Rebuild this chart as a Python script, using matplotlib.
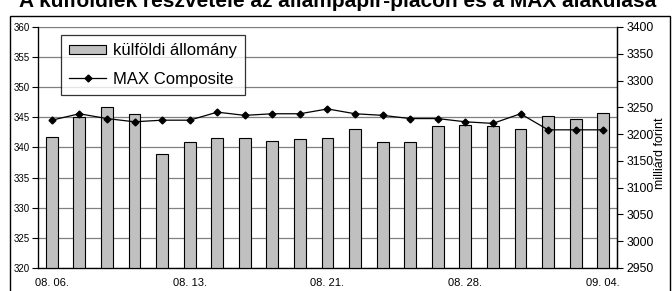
import matplotlib
matplotlib.use("Agg")
import matplotlib.pyplot as plt
from matplotlib.patches import Rectangle
import numpy as np

plt.rcParams['font.family'] = ['Liberation Sans', 'DejaVu Sans']

dates = ["08. 06.", "08. 07.", "08. 08.", "08. 09.", "08. 10.",
         "08. 13.", "08. 14.", "08. 15.", "08. 16.", "08. 17.",
         "08. 21.", "08. 22.", "08. 23.", "08. 24.", "08. 27.",
         "08. 28.", "08. 29.", "08. 30.", "08. 31.", "09. 03.", "09. 04."]
kulfoldi = [341.7, 345.1, 346.7, 345.6, 339.0, 340.9, 341.6, 341.6, 341.1, 341.4,
            341.6, 343.0, 340.9, 340.9, 343.5, 343.7, 343.5, 343.0, 345.3, 344.8, 345.8]
max_comp = [3226, 3238, 3229, 3223, 3226, 3226, 3241, 3235, 3238, 3238,
            3247, 3238, 3235, 3229, 3229, 3223, 3220, 3238, 3208, 3208, 3208]
left_ticks = [320, 325, 330, 335, 340, 345, 350, 355, 360]
right_ticks = [2950, 3000, 3050, 3100, 3150, 3200, 3250, 3300, 3350, 3400]
title = "A külföldiek részvétele az állampapír-piacon és a MAX alakulása"

W, H = 672, 291
fig = plt.figure(figsize=(W / 100, H / 100), dpi=100)
ax = fig.add_axes([38 / W, (H - 268) / H, (617 - 38) / W, (268 - 27) / H])

x = np.arange(len(dates))
ax.bar(x, [v - 320 for v in kulfoldi], bottom=320, width=0.43, color='#c0c0c0',
       edgecolor='black', linewidth=0.8, zorder=3, label='külföldi állomány')
ax.set_ylim(320, 360)
ax.set_xlim(-0.5, len(dates) - 0.5)
ax.set_yticks(left_ticks)
ax.set_yticklabels([str(t) for t in left_ticks], fontsize=7)
ax.grid(axis='y', color='#808080', linewidth=0.9, zorder=0)
ax.set_xticks(x[::5])
ax.set_xticklabels(dates[::5], fontsize=8)
ax.tick_params(axis='x', length=0, pad=7)
ax.tick_params(axis='y', length=4, width=0.8, pad=2, direction='out')
for s in ['left', 'bottom', 'right']:
    ax.spines[s].set_linewidth(0.9)
    ax.spines[s].set_color('black')
ax.spines['top'].set_color('#808080')

ax2 = ax.twinx()
ax2.plot(x, max_comp, color='black', linewidth=0.9, marker='D', markersize=3.5,
         zorder=4, label='MAX Composite')
ax2.set_ylim(2950, 3400)
ax2.set_yticks(right_ticks)
ax2.set_yticklabels([str(t) for t in right_ticks], fontsize=8.7)
ax2.tick_params(axis='y', length=4, width=0.8, pad=3, direction='out')
ax2.spines['top'].set_visible(False)
ax2.spines['right'].set_linewidth(0.9)

h1, l1 = ax.get_legend_handles_labels()
h2, l2 = ax2.get_legend_handles_labels()
leg = ax2.legend(h1 + h2, l1 + l2, loc='upper left',
                 bbox_to_anchor=((61 - 38) / 579, 1 - (35 - 27) / 241),
                 fontsize=12, frameon=True, fancybox=False, edgecolor='black',
                 borderpad=0.5, handlelength=2.2, handleheight=0.45,
                 handletextpad=0.4, labelspacing=0.8, borderaxespad=0)
leg.get_frame().set_linewidth(0.9)

fig.text(660 / W, (H - 153) / H, 'milliárd forint', rotation=90, fontsize=9,
         ha='center', va='center')

fig.text(338 / W, (H - 7) / H, title, fontsize=15, fontweight='bold',
         ha='center', va='baseline')

fig.patches.append(Rectangle((10 / W, -0.2), (W - 12) / W, (H - 16) / H + 0.2,
                             transform=fig.transFigure, fill=False,
                             edgecolor='black', linewidth=1.0))

fig.savefig('out.png', dpi=100)
